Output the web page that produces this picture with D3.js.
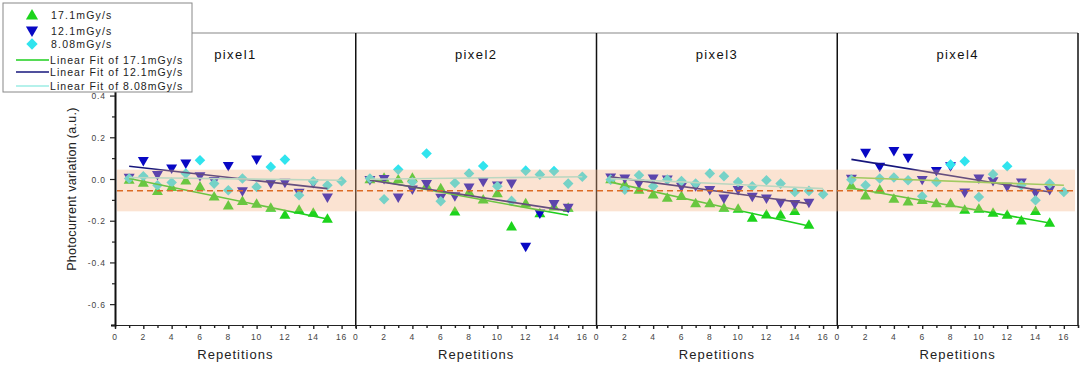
<!DOCTYPE html>
<html>
<head>
<meta charset="utf-8">
<script src="https://cdn.jsdelivr.net/npm/d3@7"></script>
<style>
  body { margin: 0; background: #fff; }
  text { font-family: Arial, "Liberation Sans", sans-serif; }
</style>
</head>
<body>
<div id="chart"></div>
<script>
// panels, repetitions and the three dose rates
const panelNames = ["pixel1", "pixel2", "pixel3", "pixel4"];
const seriesNames = ["17.1mGy/s", "12.1mGy/s", "8.08mGy/s"];
const reps15 = [1, 2, 3, 4, 5, 6, 7, 8, 9, 10, 11, 12, 13, 14, 15];
const reps16 = [1, 2, 3, 4, 5, 6, 7, 8, 9, 10, 11, 12, 13, 14, 15, 16];
const xTicks = [0, 2, 4, 6, 8, 10, 12, 14, 16];
// the 0.6 label sits under the legend box in the original
const yTicks = [-0.6, -0.4, -0.2, 0.0, 0.2, 0.4];

// 17.1 mGy/s, one row per pixel
const dose171 = [
  [-0.003, -0.017, -0.057, -0.038, -0.006, -0.035, -0.083, -0.126, -0.105, -0.118, -0.137, -0.171, -0.147, -0.161, -0.190],
  [-0.001, 0.007, -0.001, 0.007, -0.030, -0.043, -0.155, -0.062, -0.097, -0.067, -0.227, -0.115, -0.163, -0.131, -0.137],
  [-0.001, -0.025, -0.051, -0.073, -0.089, -0.081, -0.115, -0.115, -0.137, -0.142, -0.185, -0.169, -0.171, -0.153, -0.219],
  [-0.030, -0.078, -0.049, -0.094, -0.107, -0.100, -0.115, -0.115, -0.147, -0.142, -0.161, -0.171, -0.198, -0.153, -0.209]
];
// 12.1 mGy/s
const dose121 = [
  [0.005, 0.085, 0.018, 0.050, 0.074, 0.013, -0.010, 0.062, -0.059, 0.093, -0.022, -0.019, -0.067, -0.020, -0.089],
  [-0.006, -0.001, -0.089, -0.051, -0.025, -0.091, -0.083, -0.041, -0.014, -0.032, -0.022, -0.326, -0.166, -0.121, -0.139],
  [0.007, 0.002, -0.022, 0.002, -0.003, -0.038, -0.035, -0.054, -0.094, -0.054, -0.086, -0.094, -0.115, -0.121, -0.115],
  [0.000, 0.125, 0.058, 0.133, 0.101, -0.005, 0.038, 0.060, -0.065, 0.002, -0.011, -0.038, -0.017, -0.067, -0.054]
];
// 8.08 mGy/s
const dose808 = [
  [0.002, 0.013, -0.030, -0.017, 0.026, 0.090, -0.022, -0.054, 0.002, -0.038, 0.058, 0.093, -0.078, -0.011, -0.030, -0.011],
  [0.002, -0.097, 0.045, -0.014, 0.122, -0.107, -0.019, 0.026, 0.062, -0.035, -0.105, 0.040, 0.021, 0.038, -0.022, 0.011],
  [-0.003, -0.051, 0.018, -0.035, -0.003, -0.010, -0.022, 0.026, 0.013, -0.014, -0.035, -0.006, -0.022, -0.062, -0.057, -0.073],
  [-0.003, -0.030, 0.002, 0.007, -0.006, -0.083, -0.014, 0.069, 0.085, -0.086, 0.023, 0.061, -0.030, -0.102, -0.022, -0.062]
];

// linear fits: value at first and last repetition, per pixel
const fit171Start = [0.002, -0.001, -0.015, -0.043];
const fit171End = [-0.192, -0.174, -0.225, -0.211];
const fit121Start = [0.061, -0.006, 0.010, 0.094];
const fit121End = [-0.046, -0.153, -0.118, -0.062];
const fit808Start = [0.007, -0.001, 0.002, 0.007];
const fit808End = [-0.006, 0.011, -0.046, -0.030];

// reference band and dashed mean line
const bandLow = -0.155, bandHigh = 0.045, meanLine = -0.056;

// set the dimensions of the graph
const W = 1082, H = 365;
const plotLeft = 115, plotTop = 33, plotBottom = 325;
const panelW = (1078 - plotLeft) / 4;

const colors = ["#1cd41c", "#0808c4", "#30e4ee"];
const fitColors = ["#1ecf1e", "#16167c", "#9cece4"];
const fitColorP4 = "#74d84e";

const svg = d3.select("#chart").append("svg")
  .attr("width", W).attr("height", H);

const y = d3.scaleLinear().domain([-0.7, 0.7]).range([plotBottom, plotTop]);
const fmt = v => d3.format(".1f")(v).replace("\u2212", "-");

const triUp = d3.symbol().type(d3.symbolTriangle).size(52);
const sq = d3.symbol().type(d3.symbolSquare).size(56);

const allSeries = [dose171, dose121, dose808];
const fitStarts = [fit171Start, fit121Start, fit808Start];
const fitEnds = [fit171End, fit121End, fit808End];
const repsFor = [reps15, reps15, reps16];

// top frame line
svg.append("line")
  .attr("x1", plotLeft).attr("x2", plotLeft + 4 * panelW)
  .attr("y1", plotTop).attr("y2", plotTop)
  .attr("stroke", "#888").attr("stroke-width", 1.2);

panelNames.forEach((name, p) => {
  const x0 = plotLeft + p * panelW;
  const x = d3.scaleLinear().domain([0, 17]).range([x0, x0 + panelW]);
  const g = svg.append("g");

  // markers
  allSeries.forEach((series, s) => {
    const reps = repsFor[s];
    g.selectAll(null)
      .data(reps.map((r, i) => ({ r: r, v: series[p][i] })))
      .enter().append("path")
      .attr("d", s === 2 ? sq : triUp)
      .attr("transform", d => {
        const tx = x(d.r), ty = y(d.v);
        if (s === 0) return `translate(${tx},${ty + 1})`;
        if (s === 1) return `translate(${tx},${ty - 1}) rotate(180)`;
        return `translate(${tx},${ty}) rotate(45)`;
      })
      .attr("fill", colors[s]);
  });

  // fit lines
  allSeries.forEach((series, s) => {
    const reps = repsFor[s];
    const col = (p === 3 && s === 2) ? fitColorP4 : fitColors[s];
    g.append("line")
      .attr("x1", x(reps[0])).attr("x2", x(reps[reps.length - 1]))
      .attr("y1", y(fitStarts[s][p])).attr("y2", y(fitEnds[s][p]))
      .attr("stroke", col).attr("stroke-width", 1.6);
  });

  // x axis
  const ax = svg.append("g").attr("transform", `translate(0,${plotBottom})`);
  ax.call(d3.axisBottom(x).tickValues(d3.range(0, 18)).tickSize(3).tickFormat(""));
  ax.selectAll(".tick line").attr("stroke", "#222").attr("stroke-width", 1.4)
    .attr("y2", d => d % 2 === 0 ? 4 : 3);
  ax.select(".domain").attr("stroke", "#222").attr("stroke-width", 1.2);
  ax.selectAll(".lab").data(xTicks.filter(t => x(t) < 1076)).enter().append("text")
    .attr("class", "lab")
    .attr("x", d => x(d)).attr("y", 15)
    .attr("text-anchor", "middle")
    .attr("font-size", 8.5).attr("letter-spacing", 0.9).attr("fill", "#444")
    .text(d => d);

  svg.append("text")
    .attr("x", x0 + panelW / 2).attr("y", 359)
    .attr("text-anchor", "middle").attr("font-size", 13)
    .attr("letter-spacing", 1).attr("fill", "#222")
    .text("Repetitions");

  svg.append("text")
    .attr("x", x0 + panelW / 2).attr("y", 59)
    .attr("text-anchor", "middle").attr("font-size", 13)
    .attr("letter-spacing", 1.4).attr("fill", "#111")
    .text(name);

  // panel separator / right frame
  svg.append("line")
    .attr("x1", x0 + panelW).attr("x2", x0 + panelW)
    .attr("y1", plotTop).attr("y2", plotBottom)
    .attr("stroke", "#111").attr("stroke-width", 1.5);
});

// translucent band drawn over the points, then the dashed line
svg.append("rect")
  .attr("x", plotLeft + 2).attr("width", 4 * panelW - 5)
  .attr("y", y(bandHigh)).attr("height", y(bandLow) - y(bandHigh))
  .attr("fill", "#f4b183").attr("fill-opacity", 0.36);

svg.append("line")
  .attr("x1", plotLeft + 2).attr("x2", plotLeft + 4 * panelW - 3)
  .attr("y1", y(meanLine)).attr("y2", y(meanLine))
  .attr("stroke", "#dc6a24").attr("stroke-width", 1.6)
  .attr("stroke-dasharray", "6,4");

// y axis
const ay = svg.append("g").attr("transform", `translate(${plotLeft},0)`);
ay.call(d3.axisLeft(y).tickValues(d3.range(-7, 8).map(d => d / 10)).tickSize(4).tickFormat(""));
ay.selectAll(".tick line").attr("stroke", "#222").attr("stroke-width", 1.2)
  .attr("x2", (d, i) => i % 2 === 1 ? -5 : -3);
ay.select(".domain").attr("stroke", "#111").attr("stroke-width", 2);
ay.selectAll(".lab").data(yTicks).enter().append("text")
  .attr("class", "lab")
  .attr("x", -9).attr("y", d => y(d) + 3.5)
  .attr("text-anchor", "end")
  .attr("font-size", 8.5).attr("letter-spacing", 0.9).attr("fill", "#444")
  .text(fmt);

svg.append("text")
  .attr("transform", `translate(76,189) rotate(-90)`)
  .attr("text-anchor", "middle").attr("font-size", 12.5)
  .attr("letter-spacing", 0.3).attr("fill", "#222")
  .text("Photocurrent variation (a.u.)");

// legend
const leg = svg.append("g");
leg.append("rect")
  .attr("x", 3).attr("y", 3).attr("width", 189).attr("height", 89)
  .attr("fill", "#fff").attr("stroke", "#888").attr("stroke-width", 1);

const symRows = [15, 31, 44];
seriesNames.forEach((n, s) => {
  leg.append("path")
    .attr("d", s === 2 ? d3.symbol().type(d3.symbolSquare).size(64) : d3.symbol().type(d3.symbolTriangle).size(64))
    .attr("transform", s === 0 ? `translate(32,${symRows[s] + 1})`
      : s === 1 ? `translate(32,${symRows[s] - 1}) rotate(180)`
      : `translate(32,${symRows[s]}) rotate(45)`)
    .attr("fill", colors[s]);
  leg.append("text")
    .attr("x", 51).attr("y", symRows[s] + 3.5)
    .attr("font-size", 10.5).attr("letter-spacing", 1.2).attr("fill", "#222")
    .text(n);
});

const lineRows = [60, 72, 86];
seriesNames.forEach((n, s) => {
  leg.append("line")
    .attr("x1", 16).attr("x2", 49)
    .attr("y1", lineRows[s]).attr("y2", lineRows[s])
    .attr("stroke", fitColors[s]).attr("stroke-width", 1.6);
  leg.append("text")
    .attr("x", 50).attr("y", lineRows[s] + 3.5)
    .attr("font-size", 10.5).attr("letter-spacing", 1.05).attr("fill", "#222")
    .text("Linear Fit of " + n);
});
</script>
</body>
</html>
